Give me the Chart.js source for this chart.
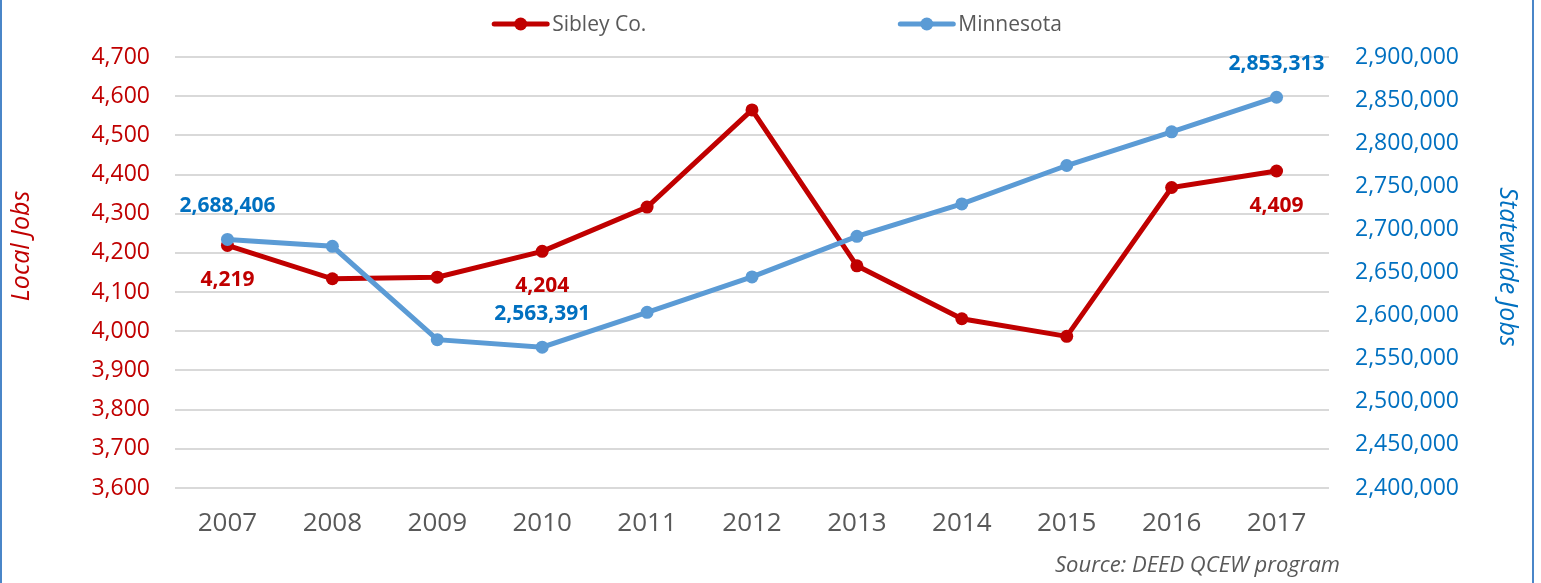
<!DOCTYPE html>
<html>
<head>
<meta charset="utf-8">
<title>Sibley Co. vs Minnesota jobs</title>
<script src="https://cdn.jsdelivr.net/npm/chart.js@4.4.1/dist/chart.umd.min.js"></script>
<style>
    html, body { margin: 0; padding: 0; background: #fff; }
    #wrap { width: 1541px; height: 583px; position: relative; }
</style>
</head>
<body>
<div id="wrap"><canvas id="jobsChart"></canvas></div>
<script>
// Data
const years = ['2007', '2008', '2009', '2010', '2011', '2012', '2013', '2014', '2015', '2016', '2017'];
const sibleyJobs = [4219, 4134, 4138, 4204, 4317, 4565, 4167, 4032, 3987, 4367, 4409];
const minnesotaJobs = [2688406, 2680400, 2572100, 2563391, 2603800, 2644900, 2692000, 2729600, 2774100, 2813200, 2853313];
const localRange = [3600, 4700, 100];
const statewideRange = [2400000, 2900000, 50000];
const labeledYears = ['2007', '2010', '2017'];

const FONT = '"Open Sans", "Liberation Sans", sans-serif';
const RED = '#C00000';
const BLUE = '#5B9BD5';
const BLUE_TEXT = '#0070C0';
const GREY_TEXT = '#595959';

const fmt = (v) => Number(v).toLocaleString('en-US');

// value labels on selected points (red below, blue above)
const pointLabels = {
    id: 'pointLabels',
    afterDatasetsDraw(chart) {
        const ctx = chart.ctx;
        ctx.save();
        ctx.font = 'bold 21px ' + FONT;
        ctx.textAlign = 'center';
        ctx.textBaseline = 'middle';
        chart.data.datasets.forEach((ds, di) => {
            const meta = chart.getDatasetMeta(di);
            ds.data.forEach((v, i) => {
                if (!labeledYears.includes(years[i])) return;
                const pt = meta.data[i];
                ctx.fillStyle = ds.labelColor;
                ctx.fillText(fmt(v), pt.x, pt.y + ds.labelOffset);
            });
        });
        ctx.restore();
    }
};

// legend with line+marker swatches, axis titles, source note and frame
const extras = {
    id: 'extras',
    afterDraw(chart) {
        const ctx = chart.ctx;
        const area = chart.chartArea;
        ctx.save();

        // legend
        ctx.font = '21px ' + FONT;
        ctx.textBaseline = 'middle';
        ctx.textAlign = 'left';
        const sw = 57, gapText = 3, gapItems = 252, ly = 24;
        const items = chart.data.datasets.map(ds => ({ ds, w: sw + gapText + ctx.measureText(ds.label).width }));
        const total = items.reduce((s, it) => s + it.w, 0) + gapItems * (items.length - 1);
        let x = (area.left + area.right) / 2 + 25 - total / 2;
        items.forEach(it => {
            ctx.strokeStyle = it.ds.borderColor;
            ctx.lineWidth = 5;
            ctx.lineCap = 'round';
            ctx.beginPath();
            ctx.moveTo(x + 2, ly);
            ctx.lineTo(x + sw - 2, ly);
            ctx.stroke();
            ctx.fillStyle = it.ds.borderColor;
            ctx.beginPath();
            ctx.arc(x + sw / 2, ly, 6.5, 0, Math.PI * 2);
            ctx.fill();
            ctx.fillStyle = GREY_TEXT;
            ctx.fillText(it.ds.label, x + sw + gapText, ly + 1);
            x += it.w + gapItems;
        });

        // axis titles
        ctx.font = 'italic 25px ' + FONT;
        ctx.textAlign = 'center';
        ctx.save();
        ctx.translate(22, area.top + 189);
        ctx.rotate(-Math.PI / 2);
        ctx.fillStyle = RED;
        ctx.fillText('Local Jobs', 0, 0);
        ctx.restore();
        ctx.save();
        ctx.translate(1507, area.top + 210);
        ctx.rotate(Math.PI / 2);
        ctx.fillStyle = BLUE_TEXT;
        ctx.fillText('Statewide Jobs', 0, 0);
        ctx.restore();

        // source note
        ctx.font = 'italic 22px ' + FONT;
        ctx.textAlign = 'right';
        ctx.fillStyle = GREY_TEXT;
        ctx.fillText('Source: DEED QCEW program', area.right + 11, 566);

        // chart frame (left and right edges visible)
        ctx.strokeStyle = '#4A86C8';
        ctx.lineWidth = 2;
        ctx.strokeRect(1, -10, 1532, chart.height + 20);
        ctx.restore();
    }
};

new Chart(document.getElementById('jobsChart'), {
    type: 'line',
    data: {
        labels: years,
        datasets: [
            {
                label: 'Sibley Co.',
                data: sibleyJobs,
                yAxisID: 'y',
                borderColor: RED,
                backgroundColor: RED,
                pointBackgroundColor: RED,
                borderWidth: 5,
                pointRadius: 6.5,
                pointBorderWidth: 0,
                tension: 0,
                order: 1,
                labelColor: RED,
                labelOffset: 35
            },
            {
                label: 'Minnesota',
                data: minnesotaJobs,
                yAxisID: 'y1',
                borderColor: BLUE,
                backgroundColor: BLUE,
                pointBackgroundColor: BLUE,
                borderWidth: 5,
                pointRadius: 6.5,
                pointBorderWidth: 0,
                tension: 0,
                order: 0,
                labelColor: BLUE_TEXT,
                labelOffset: -33
            }
        ]
    },
    options: {
        responsive: true,
        maintainAspectRatio: false,
        animation: false,
        layout: { padding: { top: 57, left: 0, right: 0, bottom: 0 } },
        plugins: {
            legend: { display: false },
            tooltip: { enabled: false }
        },
        scales: {
            x: {
                offset: true,
                grid: { display: false, drawTicks: false },
                border: { display: false },
                ticks: { color: GREY_TEXT, font: { family: FONT, size: 26 }, padding: 20 },
                afterFit(scale) { scale.height = 95; }
            },
            y: {
                position: 'left',
                min: localRange[0],
                max: localRange[1],
                ticks: {
                    stepSize: localRange[2],
                    color: RED,
                    font: { family: FONT, size: 23 },
                    padding: 25,
                    callback: fmt
                },
                grid: { color: '#D9D9D9', lineWidth: 2, drawTicks: false },
                border: { display: false },
                afterFit(scale) { scale.width = 175; }
            },
            y1: {
                position: 'right',
                min: statewideRange[0],
                max: statewideRange[1],
                ticks: {
                    stepSize: statewideRange[2],
                    color: BLUE_TEXT,
                    font: { family: FONT, size: 23 },
                    padding: 26,
                    callback: fmt
                },
                grid: { display: false, drawTicks: false },
                border: { display: false },
                afterFit(scale) { scale.width = 212; }
            }
        }
    },
    plugins: [pointLabels, extras]
});
</script>
</body>
</html>
